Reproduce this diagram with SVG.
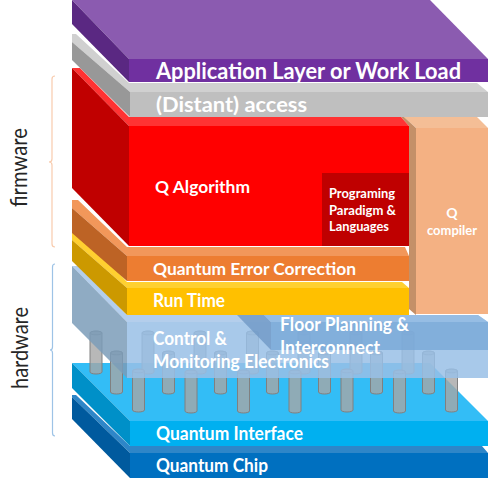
<svg xmlns="http://www.w3.org/2000/svg" width="488" height="489" viewBox="0 0 488 489">
<style>
text{font-family:"Lato","Open Sans","Liberation Sans",sans-serif;font-weight:700;fill:#fff}
.lab{font-weight:400;fill:#262626;font-size:24px}
.pb{fill:#a6a6a6;fill-opacity:.8;stroke:#808080;stroke-width:1}
.pt{fill:#a6a6a6;fill-opacity:.5;stroke:#808080;stroke-width:.8}
.br{fill:none;stroke-width:1.2}
</style>
<defs>
<g id="p"><path class="pb" d="M0,2 V41 A6,2 0 0 0 12,41 V2 A6,2 0 0 0 0,2 Z"/><ellipse class="pt" cx="6" cy="2" rx="6" ry="1.800"/></g>
</defs>
<rect width="488" height="489" fill="#fff"/>
<g id="layer-chip">
<polygon points="72,395 76,395 130,446 482,446 488,453 130,453 72,397" fill="#2e86c8"/>
<polygon points="72,397 130,453 130,478 72,419" fill="#005a9e"/>
<rect x="130" y="453" width="358" height="25" fill="#0070c0"/>
<text x="156" y="472" font-size="18" textLength="112" lengthAdjust="spacingAndGlyphs">Quantum Chip</text>
</g>
<g id="layer-interface">
<polygon points="72,363 430,363 488,421 130,421" fill="#33bdf6"/>
<polygon points="72,363 130,421 130,446 72,388" fill="#0090c8"/>
<rect x="130" y="421" width="358" height="25" fill="#00b0f0"/>
<text x="156" y="440" font-size="18" textLength="147" lengthAdjust="spacingAndGlyphs">Quantum Interface</text>
</g>
<g id="pillars">
<use href="#p" x="90" y="331"/><use href="#p" x="142" y="331"/><use href="#p" x="194" y="331"/><use href="#p" x="246.500" y="331"/><use href="#p" x="298" y="331"/><use href="#p" x="350" y="331"/><use href="#p" x="402" y="331"/>
<use href="#p" x="110.500" y="351"/><use href="#p" x="162.500" y="351"/><use href="#p" x="214.500" y="351"/><use href="#p" x="266.500" y="351"/><use href="#p" x="318.500" y="351"/><use href="#p" x="370.500" y="351"/><use href="#p" x="422.500" y="351"/>
<use href="#p" x="132.500" y="369"/><use href="#p" x="185" y="370"/><use href="#p" x="237.500" y="370"/><use href="#p" x="289" y="370"/><use href="#p" x="341" y="369"/><use href="#p" x="393.500" y="370"/><use href="#p" x="445.500" y="369"/>
</g>
<g id="layer-control">
<polygon points="72,266 78,266 127,315 478,315 488,322 127,322" fill="#a7c6e9" fill-opacity=".85"/>
<polygon points="72,266 127,322 127,378 72,323" fill="#7b9cb9" fill-opacity=".85"/>
<rect x="127" y="322" width="361" height="56" fill="#99bfe6" fill-opacity=".85"/>
</g>
<g id="layer-floor">
<polygon points="237,315 264,315 271,322 271,350" fill="#6f99c6" fill-opacity=".8"/>
<polygon points="264,315 478,315 488,322 271,322" fill="#8fb9e2" fill-opacity=".8"/>
<rect x="271" y="322" width="217" height="28" fill="#75a5d6" fill-opacity=".75"/>
</g>
<g id="layer-compiler">
<polygon points="404,117 477,117 488,128 416,128" fill="#f4be96"/>
<polygon points="401,117 404,117 416,128 416,315 409,309 409,126" fill="#c49068"/>
<rect x="416" y="128" width="72" height="186" fill="#f4b183"/>
<text x="452" y="218" font-size="14" text-anchor="middle">Q</text>
<text x="452" y="235" font-size="14" text-anchor="middle" textLength="50" lengthAdjust="spacingAndGlyphs">compiler</text>
</g>
<g id="layer-runtime">
<polygon points="72,233 82,233 127,282 402,282 409,288 127,288 72,240" fill="#ffd030"/>
<polygon points="72,240 127,288 127,315 72,261" fill="#cc9900"/>
<rect x="127" y="288" width="282" height="27" fill="#ffc000"/>
<text x="153" y="307" font-size="18" textLength="72" lengthAdjust="spacingAndGlyphs">Run Time</text>
</g>
<g id="layer-qec">
<polygon points="72,200 78,200 127,247 405,247 409,256 127,256 72,208" fill="#f2975a"/>
<polygon points="72,208 127,256 127,281 72,233" fill="#bd6325"/>
<rect x="127" y="256" width="282" height="25" fill="#ed7d31"/>
<text x="153" y="275" font-size="17.500" textLength="203" lengthAdjust="spacingAndGlyphs">Quantum Error Correction</text>
</g>
<g id="layer-algorithm">
<polygon points="72,68 80,68 129,117 401,117 409,126 129,126" fill="#ff3333"/>
<polygon points="72,68 129,126 129,246 72,188" fill="#c00000"/>
<rect x="129" y="126" width="280" height="120" fill="#ff0000"/>
<text x="155" y="193" font-size="17.500" textLength="95" lengthAdjust="spacingAndGlyphs">Q Algorithm</text>
</g>
<g id="layer-paradigm">
<rect x="322" y="173" width="87" height="73" fill="#bf0000"/>
<text x="329" y="198" font-size="13.500" textLength="66" lengthAdjust="spacingAndGlyphs">Programing</text>
<text x="329" y="215" font-size="13.500" textLength="67" lengthAdjust="spacingAndGlyphs">Paradigm &amp;</text>
<text x="329" y="231" font-size="13.500" textLength="60" lengthAdjust="spacingAndGlyphs">Languages</text>
</g>
<g id="layer-access">
<polygon points="72,34 76,34 129,83 477,83 488,92 130,92 72,42" fill="#d0d0d0"/>
<polygon points="72,42 130,92 130,117 72,60" fill="#989898"/>
<rect x="130" y="92" width="358" height="25" fill="#bfbfbf"/>
<text x="156" y="112" font-size="21.500" textLength="151" lengthAdjust="spacingAndGlyphs">(Distant) access</text>
</g>
<g id="layer-application">
<polygon points="72,0 430,0 488,59 129,59" fill="#8b5bb0"/>
<polygon points="72,0 129,59 129,82 72,24" fill="#5a2882"/>
<rect x="129" y="59" width="359" height="23" fill="#7030a0"/>
<text x="156" y="79" font-size="22.500" textLength="305" lengthAdjust="spacingAndGlyphs">Application Layer or Work Load</text>
</g>
<g id="labels-overlay">
<text x="153" y="345" font-size="19" textLength="74" lengthAdjust="spacingAndGlyphs">Control &amp;</text>
<text x="153" y="368" font-size="19" textLength="176" lengthAdjust="spacingAndGlyphs">Monitoring Electronics</text>
<text x="280" y="331" font-size="18" textLength="129" lengthAdjust="spacingAndGlyphs">Floor Planning &amp;</text>
<text x="280" y="354" font-size="18" textLength="100" lengthAdjust="spacingAndGlyphs">Interconnect</text>
</g>
<g id="connectors">
<path class="br" stroke="#f8cbad" d="M55,76 Q52,76 52,79 V159 Q52,162 49,162 Q52,162 52,165 V244 Q52,247 55,247"/>
<path class="br" stroke="#9dc3e6" d="M55,264 Q52.500,264 52.500,267 V347 Q52.500,350 50,350 Q52.500,350 52.500,353 V433 Q52.500,436 55,436"/>
</g>
<g id="label-firmware"><text class="lab" transform="translate(27,207) rotate(-90)" textLength="79" lengthAdjust="spacingAndGlyphs">firmware</text></g>
<g id="label-hardware"><text class="lab" transform="translate(28,389) rotate(-90)" textLength="82" lengthAdjust="spacingAndGlyphs">hardware</text></g>
</svg>
